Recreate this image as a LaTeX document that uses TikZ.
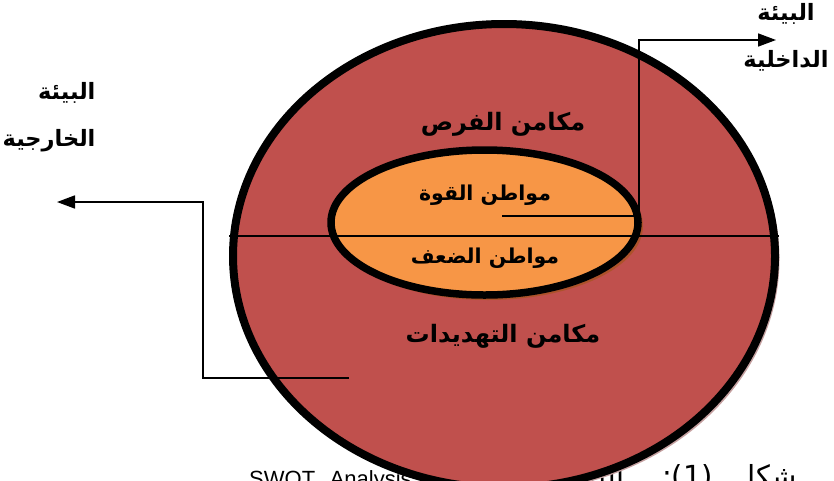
\documentclass[tikz,border=0pt]{standalone}
\usepackage{fontspec}
\setmainfont{Liberation Sans}
\newfontfamily\arabicfont[Script=Arabic]{DejaVu Sans}
\TeXXeTstate=1
\usetikzlibrary{shapes.geometric,arrows.meta,positioning}
\definecolor{outerred}{RGB}{192,80,77}
\definecolor{innerorange}{RGB}{247,150,70}
\definecolor{outershadow}{RGB}{196,160,160}
\definecolor{innershadow}{RGB}{172,82,42}

\begin{document}
\begin{tikzpicture}[x=1pt,y=-1pt,>={Triangle[length=18pt,width=13pt]}]
\tikzstyle{region}=[ellipse,inner sep=0]
\tikzstyle{zone label}=[font=\arabicfont\bfseries\fontsize{24}{26}\selectfont]
\tikzstyle{place label}=[font=\arabicfont\bfseries\fontsize{20.5}{24}\selectfont]

\tikzset{
	env label/.style={font=\arabicfont\bfseries\fontsize{22.5}{47}\selectfont},
	link/.style={draw=black,line width=1.7pt},
	split/.style={draw=black,line width=1.4pt}
}
\useasboundingbox (0,0) rectangle (834,480);

      % caption, mostly under the big ellipse
      \node[anchor=base west,inner sep=0,font=\fontsize{22}{24}\selectfont] (caption) at (249,486)
        {\makebox[548pt][s]{\beginR{\arabicfont\fontsize{29}{31}\selectfont شكل \beginL(1)\endL: التحليل الرباعي} \beginL SWOT Analysis\endL\endR}};

      \node[region,fill=outershadow,minimum width=545pt,minimum height=467pt] (outer shadow) at (507,259) {};
      \node[region,draw=black,line width=8pt,fill=outerred,minimum width=542pt,minimum height=464pt] (outer) at (504,256) {};
      \node[region,fill=innershadow,minimum width=310pt,minimum height=148pt] (inner shadow) at (488,226) {};
      \node[region,draw=black,line width=7.5pt,fill=innerorange,minimum width=307pt,minimum height=145pt] (inner) at (484.5,222.5) {};

      \node[zone label] (chances) at (503,124) {\beginR مكامن الفرص\endR};
      \node[place label] (strengths) at (485,195) {\beginR مواطن القوة\endR};
      \node[place label] (weaknesses) at (485,258) {\beginR مواطن الضعف\endR};
      \node[zone label] (threats) at (503,336) {\beginR مكامن التهديدات\endR};

      \node[env label,align=center] (internal) at (786,37) {\beginR البيئة\endR\\\beginR الداخلية\endR};
      \node[env label,align=right,anchor=east] (external) at (99,117) {\beginR البيئة\endR\\\beginR الخارجية\endR};

      \coordinate (split west) at (outer.west |- 0,236);
      \coordinate (split east) at (outer.east |- 0,236);
      \path[split] (split west) -- (split east);

      \coordinate (in start) at (502,216);
      \coordinate (in corner) at (639,216);
      \coordinate (in top) at (639,40);
      \coordinate (in tip) at (776,40);
      \path[link,->] (in start) -- (in corner) -- (in top) -- (in tip);

      \coordinate (out start) at (349,378);
      \coordinate (out corner) at (203,378);
      \coordinate (out top) at (203,202);
      \coordinate (out tip) at (57,202);
      \path[link,->] (out start) -- (out corner) -- (out top) -- (out tip);
\end{tikzpicture}
\end{document}
